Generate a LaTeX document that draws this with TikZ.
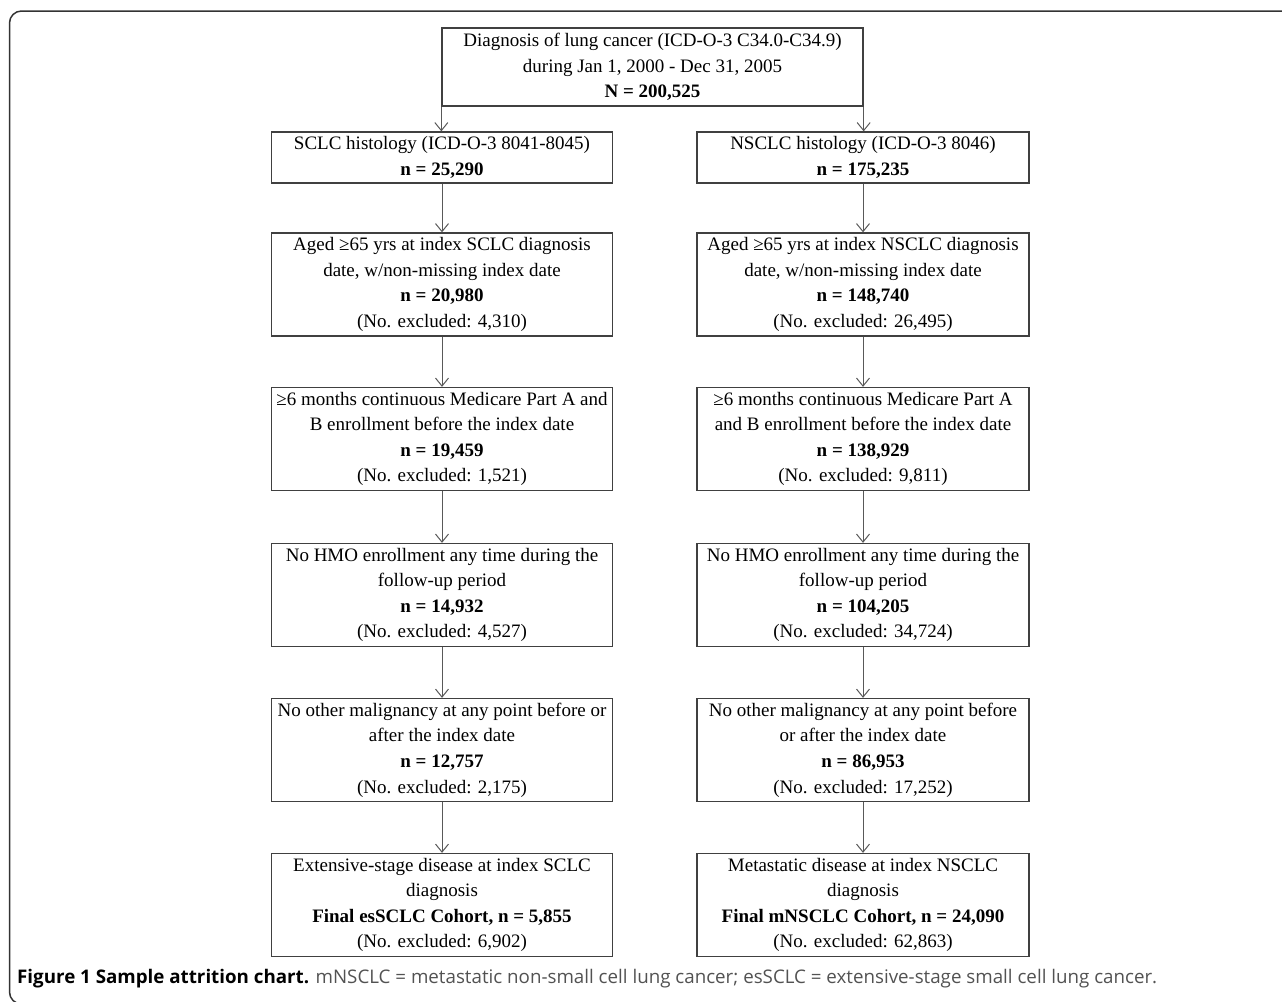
\documentclass[tikz,border=0pt]{standalone}
\usepackage{fontspec}
\setmainfont{Liberation Serif}
\newfontfamily\capfont{Open Sans}
\usetikzlibrary{arrows.meta}

\begin{document}
\begin{tikzpicture}[x=1pt, y=-1pt,
			stage/.style={draw=black!75, line width=1.3pt, align=center, inner sep=0pt,
				font=\fontsize{19}{25.6}\selectfont, text=black},
			topnd/.style  ={stage, minimum width=421pt, minimum height=78pt},
			leftnd/.style ={stage, minimum width=341pt, minimum height=103pt},
			rightnd/.style={stage, minimum width=332pt, minimum height=103pt},
			histnd/.style ={minimum height=51pt},
			flow/.style={draw=black!65, line width=1pt,
				-{Straight Barb[length=8pt, width=13pt, line width=1pt]}},
			frame/.style={draw=black!80, line width=1.5pt, rounded corners=12pt},
			]
			
			\useasboundingbox (0,0) rectangle (1282,1001);
			
			%% ── Outer frame ──────────────────────────────────────────────────────────────
			\draw[frame] (1300,11) -| (9.5,1004) -- (80,1004);
			
			%% ── Full cohort ──────────────────────────────────────────────────────────────
			\node[topnd] (diag) at (652.5, 67)
			{Diagnosis of lung cancer (ICD-O-3 C34.0-C34.9)\\
				during Jan 1, 2000 - Dec 31, 2005\\
				\textbf{N = 200,525}};
			
			%% ── SCLC branch ──────────────────────────────────────────────────────────────
			\node[leftnd, histnd] (sclchist) at (442, 157.5)
			{SCLC histology (ICD-O-3 8041-8045)\\
				\textbf{n = 25,290}};
			
			\node[leftnd] (sclcage) at (442, 284.5)
			{Aged ≥65 yrs at index SCLC diagnosis\\
				date, w/non-missing index date\\
				\textbf{n = 20,980}\\
				(No. excluded: 4,310)};
			
			\node[leftnd] (sclcmed) at (442, 439)
			{≥6 months continuous Medicare Part A and\\
				B enrollment before the index date\\
				\textbf{n = 19,459}\\
				(No. excluded: 1,521)};
			
			\node[leftnd] (sclchmo) at (442, 595)
			{No HMO enrollment any time during the\\
				follow-up period\\
				\textbf{n = 14,932}\\
				(No. excluded: 4,527)};
			
			\node[leftnd] (sclcmal) at (442, 750)
			{No other malignancy at any point before or\\
				after the index date\\
				\textbf{n = 12,757}\\
				(No. excluded: 2,175)};
			
			\node[leftnd] (sclcfin) at (442, 905)
			{Extensive-stage disease at index SCLC\\
				diagnosis\\
				\textbf{Final esSCLC Cohort, n = 5,855}\\
				(No. excluded: 6,902)};
			
			%% ── NSCLC branch ─────────────────────────────────────────────────────────────
			\node[rightnd, histnd] (nsclchist) at (863, 157.5)
			{NSCLC histology (ICD-O-3 8046)\\
				\textbf{n = 175,235}};
			
			\node[rightnd] (nsclcage) at (863, 284.5)
			{Aged ≥65 yrs at index NSCLC diagnosis\\
				date, w/non-missing index date\\
				\textbf{n = 148,740}\\
				(No. excluded: 26,495)};
			
			\node[rightnd] (nsclcmed) at (863, 439)
			{≥6 months continuous Medicare Part A\\
				and B enrollment before the index date\\
				\textbf{n = 138,929}\\
				(No. excluded: 9,811)};
			
			\node[rightnd] (nsclchmo) at (863, 595)
			{No HMO enrollment any time during the\\
				follow-up period\\
				\textbf{n = 104,205}\\
				(No. excluded: 34,724)};
			
			\node[rightnd] (nsclcmal) at (863, 750)
			{No other malignancy at any point before\\
				or after the index date\\
				\textbf{n = 86,953}\\
				(No. excluded: 17,252)};
			
			\node[rightnd] (nsclcfin) at (863, 905)
			{Metastatic disease at index NSCLC\\
				diagnosis\\
				\textbf{Final mNSCLC Cohort, n = 24,090}\\
				(No. excluded: 62,863)};
			
			%% ── Caption ──────────────────────────────────────────────────────────────────
			\node[anchor=base west, inner sep=0pt, font=\capfont\fontsize{18.75}{22}\selectfont,
				text=black!68] (caption) at (17, 983)
			{\textcolor{black}{\bfseries Figure 1 Sample attrition chart.} mNSCLC = metastatic
				non-small cell lung cancer; esSCLC = extensive-stage small cell lung cancer.};
			
			%% ── Split into histology groups ─────────────────────────────────────────────
			\draw[flow] (diag.south west) -- (diag.south west |- sclchist.north);
			\draw[flow] (diag.south east) -- (diag.south east |- nsclchist.north);
			
			%% ── Attrition steps ──────────────────────────────────────────────────────────
			\draw[flow] (sclchist) -- (sclcage);
			\draw[flow] (sclcage)  -- (sclcmed);
			\draw[flow] (sclcmed)  -- (sclchmo);
			\draw[flow] (sclchmo)  -- (sclcmal);
			\draw[flow] (sclcmal)  -- (sclcfin);
			
			\draw[flow] (nsclchist) -- (nsclcage);
			\draw[flow] (nsclcage)  -- (nsclcmed);
			\draw[flow] (nsclcmed)  -- (nsclchmo);
			\draw[flow] (nsclchmo)  -- (nsclcmal);
			\draw[flow] (nsclcmal)  -- (nsclcfin);
			
		\end{tikzpicture}
\end{document}
